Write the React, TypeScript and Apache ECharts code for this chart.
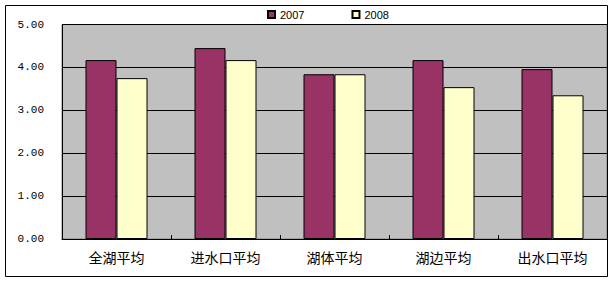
import React, { useEffect, useRef } from "react";
import * as echarts from "echarts";

const categories = ["全湖平均", "进水口平均", "湖体平均", "湖边平均", "出水口平均"];
const series2007 = [4.17, 4.45, 3.84, 4.17, 3.96];
const series2008 = [3.75, 4.17, 3.84, 3.54, 3.35];
const seriesNames = ["2007", "2008"];

export default function App() {
  const ref = useRef<HTMLDivElement>(null);
  useEffect(() => {
    document.body.style.margin = "0";
    const chart = echarts.init(ref.current!, null, { renderer: "svg" });
    chart.setOption({
      animation: false,
      backgroundColor: "#ffffff",
      graphic: [
        {
          type: "rect",
          shape: { x: 5.5, y: 5.5, width: 602, height: 271 },
          style: { fill: "none", stroke: "#000", lineWidth: 1 },
          z: 10,
        },
      ],
      legend: {
        data: seriesNames,
        left: 239,
        top: 6,
        padding: [3, 26, 3, 28],
        backgroundColor: "#ffffff",
        itemWidth: 7,
        itemHeight: 7,
        itemGap: 47,
        icon: "rect",
        textStyle: { fontFamily: "Liberation Sans", fontSize: 11, color: "#000" },
      },
      grid: {
        left: 62,
        right: 8,
        top: 24.5,
        bottom: 44,
        show: true,
        backgroundColor: "#c0c0c0",
        borderColor: "#808080",
        borderWidth: 1,
      },
      xAxis: {
        type: "category",
        data: categories,
        axisLine: { lineStyle: { color: "#000", width: 1 } },
        axisTick: { show: true, inside: true, length: 4, lineStyle: { color: "#000" } },
        axisLabel: {
          margin: 11,
          fontFamily: "Noto Sans CJK SC",
          fontSize: 14,
          color: "#000",
        },
      },
      yAxis: {
        type: "value",
        min: 0,
        max: 5,
        interval: 1,
        axisLine: { show: true, lineStyle: { color: "#000", width: 1 } },
        axisTick: { show: false },
        splitLine: { show: true, lineStyle: { color: "#000", width: 1 } },
        axisLabel: {
          margin: 18,
          fontFamily: "Liberation Mono",
          fontSize: 11,
          color: "#000",
          formatter: (v: number) => v.toFixed(2),
        },
      },
      series: [
        {
          name: seriesNames[0],
          type: "bar",
          data: series2007,
          barWidth: 31,
          barGap: "0%",
          itemStyle: { color: "#993366", borderColor: "#000", borderWidth: 1 },
        },
        {
          name: seriesNames[1],
          type: "bar",
          data: series2008,
          barWidth: 31,
          barGap: "0%",
          itemStyle: { color: "#ffffcc", borderColor: "#000", borderWidth: 1 },
        },
      ],
    });
    return () => chart.dispose();
  }, []);
  return <div ref={ref} style={{ width: 615, height: 283 }} />;
}
